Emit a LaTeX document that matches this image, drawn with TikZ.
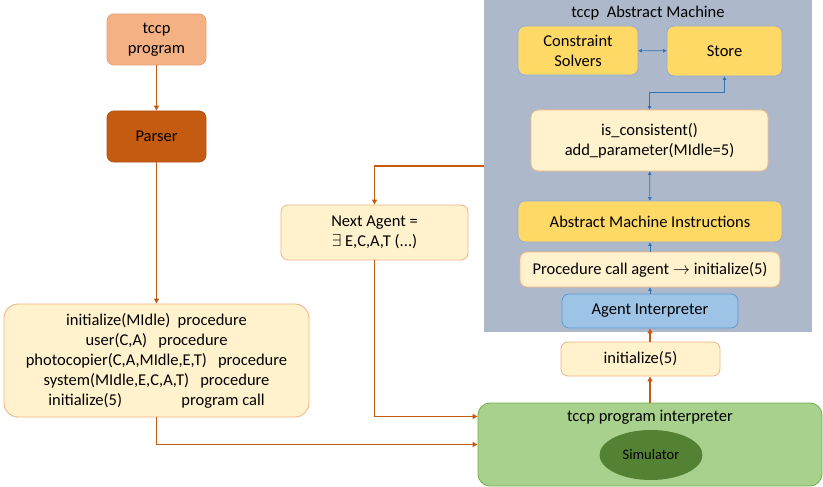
\documentclass[tikz,border=0pt]{standalone}
\usepackage{fontspec}
\setmainfont{Carlito}
\usepackage{tikz}
\usetikzlibrary{arrows.meta, shapes.geometric}
\usepackage{xcolor}

\definecolor{flowc}{HTML}{C55A11}
\definecolor{linkc}{HTML}{2E75B6}
\definecolor{peach}{HTML}{F4B183}
\definecolor{peachline}{HTML}{E9A070}
\definecolor{cream}{HTML}{FFF2CC}
\definecolor{gold}{HTML}{FFD966}
\definecolor{goldline}{HTML}{8FAADC}
\definecolor{skyfill}{HTML}{9DC3E6}
\definecolor{skyline}{HTML}{5B9BD5}
\definecolor{leaf}{HTML}{A9D18E}
\definecolor{leafline}{HTML}{70AD47}
\definecolor{forest}{HTML}{548235}
\definecolor{slate}{HTML}{ADB9CA}

\begin{document}
\begin{tikzpicture}[x=1pt,y=-1pt,
  font=\fontsize{16.5}{20}\selectfont,
  box/.style={rounded corners=7pt, line width=0.8pt, align=center, inner sep=0pt},
  lightbox/.style={box, fill=cream, draw=peach},
  goldbox/.style={box, fill=gold, draw=goldline},
  flow/.style={draw=flowc, line width=1.6pt, -{Triangle[length=5pt,width=5pt]}},
  link/.style={draw=linkc, line width=0.7pt, {Triangle[length=3.5pt,width=3.5pt]}-{Triangle[length=3.5pt,width=3.5pt]}},
  link1/.style={draw=linkc, line width=0.7pt, -{Triangle[length=3.5pt,width=3.5pt]}}]
  \useasboundingbox (0,0) rectangle (823,487);

  % front end
  \node[box, fill=peach, draw=peachline, minimum width=99pt, minimum height=51pt] (prog) at (156.5,39.5) {tccp\\program};
  \node[box, fill=flowc, draw=flowc!90!black, minimum width=99pt, minimum height=51pt] (parser) at (156.5,136.5) {Parser};
  \node[lightbox, rounded corners=14pt, minimum width=305pt, minimum height=113pt] (decl) at (156.5,360.5)
    {initialize(MIdle)\ \ procedure\\
     user(C,A)\ \ \ procedure\\
     photocopier(C,A,MIdle,E,T)\ \ \ procedure\\
     system(MIdle,E,C,A,T)\ \ \ procedure\\
     initialize(5)\hspace{3.6em}program call};

  \draw[flow] (prog) -- (parser);
  \draw[flow] (parser) -- (decl);

  % abstract machine
  \node[fill=slate, minimum width=328pt, minimum height=332pt, inner sep=0pt] (am) at (648,166) {};
  \node (amtitle) at (648,13) {tccp\ \ Abstract Machine};
  \node[goldbox, minimum width=120pt, minimum height=49pt] (solvers) at (578,50.5) {Constraint\\Solvers};
  \node[goldbox, minimum width=115pt, minimum height=50pt] (store) at (724.5,51) {Store};
  \node[lightbox, minimum width=237pt, minimum height=61pt] (consist) at (649.5,140.5) {is\_consistent()\\add\_parameter(MIdle=5)};
  \node[goldbox, minimum width=264pt, minimum height=41pt] (ami) at (650,221.5) {Abstract Machine Instructions};
  \node[lightbox, minimum width=260pt, minimum height=35pt] (proccall) at (650,269.5) {Procedure call agent $\rightarrow$ initialize(5)};
  \node[box, fill=skyfill, draw=skyline, minimum width=176pt, minimum height=34pt] (agent) at (650,311) {Agent Interpreter};

  \draw[link] (solvers) -- (store);
  \draw[link] (consist.north) -- ++(0,-17) -| (store.south);
  \draw[link] (consist) -- (ami);
  \draw[link1] (proccall) -- (ami);
  \draw[link1] (agent) -- (proccall);

  % interpreter
  \node[lightbox, minimum width=159pt, minimum height=34pt] (init) at (640.5,359) {initialize(5)};
  \node[box, rounded corners=12pt, fill=leaf, draw=leafline, minimum width=344pt, minimum height=83pt] (interp) at (650,444.5) {};
  \node (interptitle) at (650,417) {tccp program interpreter};
  \node[ellipse, fill=forest, minimum width=103pt, minimum height=50pt, inner sep=0pt, font=\fontsize{14.5}{16}\selectfont] (sim) at (651,455) {Simulator};

  \node[lightbox, minimum width=187pt, minimum height=55pt] (next) at (374.5,232.5) {Next Agent =\\$\exists$ E,C,A,T (...)};

  \draw[flow] (interp.north -| agent) -- (init.south -| agent);
  \draw[flow] (init.north -| agent) -- (agent.south);
  \draw[flow] (am.west) -| (next.north);
  \draw[flow] (next.south) |- ([yshift=28pt]interp.west);
  \draw[flow] (decl.south) |- (interp.west);
\end{tikzpicture}
\end{document}
